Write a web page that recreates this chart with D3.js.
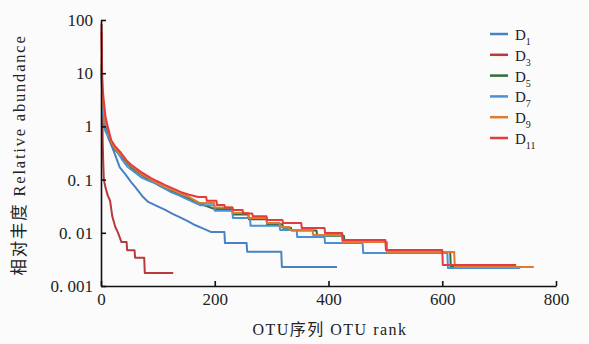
<!DOCTYPE html>
<html>
<head>
<meta charset="utf-8">
<script src="https://cdn.jsdelivr.net/npm/d3@7"></script>
<style>
  html, body { margin: 0; padding: 0; background: #fbfbfb; }
  svg { display: block; }
  text { font-family: "Liberation Serif", "Noto Sans CJK SC", serif; fill: #222; }
</style>
</head>
<body>
<svg id="chart" width="589" height="344"></svg>
<script>
// rank / relative abundance (%) pairs
const seriesNames = ['1', '3', '5', '7', '9', '11'];
const seriesColors = ['#4a80c4', '#b83a3c', '#2f6e3c', '#4a90d4', '#e07a32', '#e23c3e'];

const d1 = [[1,12],[2,3.5],[3,1.5],[5,1.0],[9,0.8],[13,0.6],[18,0.45],[22,0.35],[26,0.27],[33,0.17],[42,0.13],[53,0.09],[60,0.073],[74,0.047],[83,0.038],[95,0.033],[113,0.027],[125,0.023],[141,0.019],[155,0.016],[165,0.014],[180,0.012],[193,0.0104],[217,0.0104],[218,0.0064],[256,0.0064],[257,0.0044],[317,0.0044],[318,0.00228],[415,0.00228]];
const d3s = [[1,85],[2,6],[3,0.5],[4,0.2],[5,0.1],[8,0.07],[12,0.05],[16,0.04],[20,0.02],[25,0.013],[30,0.01],[36,0.0067],[45,0.0067],[46,0.0047],[59,0.0047],[60,0.0034],[76,0.0034],[77,0.00175],[127,0.00175]];
const d5 = [[1,15],[2,5],[3,2.5],[5,1.6],[8,1.1],[12,0.8],[18,0.48],[25,0.36],[35,0.28],[45,0.21],[53,0.17],[70,0.125],[88,0.095],[100,0.08],[113,0.068],[128,0.058],[141,0.05],[155,0.044],[174,0.035],[200,0.028],[231,0.028],[232,0.022],[259,0.022],[260,0.018],[291,0.018],[292,0.0145],[319,0.0145],[320,0.0125],[334,0.0125],[335,0.011],[379,0.011],[380,0.0088],[427,0.0088],[428,0.0067],[502,0.0067],[503,0.00435],[614,0.00435],[615,0.00228],[745,0.00228]];
const d7 = [[1,10],[2,4],[3,2],[5,1.2],[8,0.8],[12,0.7],[16,0.6],[22,0.42],[30,0.316],[38,0.23],[47,0.172],[58,0.14],[70,0.112],[82,0.097],[95,0.086],[108,0.072],[123,0.058],[138,0.05],[153,0.042],[174,0.033],[199,0.033],[200,0.026],[231,0.026],[232,0.019],[262,0.019],[263,0.0135],[314,0.0135],[315,0.0113],[344,0.0113],[345,0.0083],[393,0.0083],[394,0.0064],[460,0.0064],[461,0.00417],[609,0.00417],[610,0.00218],[737,0.00218]];
const d9 = [[1,20],[2,6],[3,3],[5,2],[8,1.2],[12,0.9],[18,0.5],[25,0.38],[35,0.3],[45,0.22],[53,0.18],[70,0.13],[88,0.1],[100,0.085],[113,0.072],[128,0.062],[141,0.054],[155,0.047],[174,0.0363],[199,0.0363],[200,0.03],[231,0.03],[232,0.0236],[259,0.0236],[260,0.019],[291,0.019],[292,0.0153],[314,0.0153],[315,0.0129],[331,0.0129],[332,0.0113],[372,0.0113],[373,0.0091],[424,0.0091],[425,0.0067],[502,0.0067],[503,0.00435],[621,0.00435],[622,0.00228],[761,0.00228]];
const d11 = [[1,60],[2,10],[3,5],[5,3],[8,1.5],[12,0.97],[18,0.55],[25,0.42],[35,0.32],[45,0.23],[53,0.19],[70,0.14],[88,0.107],[100,0.092],[113,0.079],[128,0.067],[141,0.058],[155,0.052],[171,0.047],[185,0.047],[186,0.04],[203,0.04],[204,0.0333],[217,0.0333],[218,0.03],[231,0.03],[232,0.0268],[249,0.0268],[250,0.023],[266,0.023],[267,0.0205],[291,0.0205],[292,0.0174],[319,0.0174],[320,0.0153],[352,0.0153],[353,0.0123],[393,0.0123],[394,0.0099],[424,0.0099],[425,0.0073],[500,0.0073],[501,0.00475],[600,0.00475],[601,0.00248],[730,0.00248]];
const allSeries = [d1, d3s, d5, d7, d9, d11];

const xTicks = [0, 200, 400, 600, 800];
const yTicks = [0.001, 0.01, 0.1, 1, 10, 100];
const yTickLabels = ['0. 001', '0. 01', '0. 1', '1', '10', '100'];

const svg = d3.select('#chart');

const x = d3.scaleLinear().domain([0, 800]).range([101, 556]);
const y = d3.scaleLog().domain([0.001, 100]).range([286, 20]);

// lines first, axes drawn over them
const line = d3.line()
  .x(d => x(d[0]))
  .y(d => y(d[1]));

svg.append('g')
  .selectAll('path')
  .data(allSeries)
  .enter().append('path')
  .attr('d', line)
  .attr('fill', 'none')
  .attr('stroke', (d, i) => seriesColors[i])
  .attr('stroke-width', 2)
  .attr('stroke-linejoin', 'round');

const xAxis = svg.append('g')
  .attr('transform', 'translate(0,286)')
  .call(d3.axisBottom(x).tickValues(xTicks).tickSizeInner(-5).tickSizeOuter(0).tickPadding(7));

const yAxis = svg.append('g')
  .attr('transform', 'translate(101,0)')
  .call(d3.axisLeft(y).tickValues(yTicks).tickSizeInner(-5).tickSizeOuter(0).tickPadding(8)
    .tickFormat((d, i) => yTickLabels[i]));

[xAxis, yAxis].forEach(g => {
  g.select('.domain').attr('stroke', '#111').attr('stroke-width', 1.6);
  g.selectAll('.tick line').attr('stroke', '#111').attr('stroke-width', 1.6);
  g.selectAll('.tick text')
    .attr('font-family', '"Liberation Serif", serif')
    .attr('font-size', 17)
    .attr('fill', '#222');
});

// axis titles
svg.append('text')
  .attr('x', 330)
  .attr('y', 335)
  .attr('text-anchor', 'middle')
  .attr('font-size', 16)
  .attr('letter-spacing', 1.5)
  .text('OTU序列 OTU rank');

svg.append('text')
  .attr('transform', 'translate(25,155) rotate(-90)')
  .attr('text-anchor', 'middle')
  .attr('font-size', 16.5)
  .attr('letter-spacing', 1.8)
  .text('相对丰度 Relative abundance');

// legend
const legend = svg.append('g')
  .selectAll('g')
  .data(seriesNames)
  .enter().append('g')
  .attr('transform', (d, i) => `translate(490,${34 + i * 20.8})`);

legend.append('line')
  .attr('x1', 0).attr('x2', 18)
  .attr('stroke', (d, i) => seriesColors[i])
  .attr('stroke-width', 2.5);

const lt = legend.append('text')
  .attr('x', 25)
  .attr('y', 6)
  .attr('font-size', 15);
lt.append('tspan').text('D');
lt.append('tspan')
  .attr('font-size', 10)
  .attr('dy', 5)
  .text(d => d);
</script>
</body>
</html>
